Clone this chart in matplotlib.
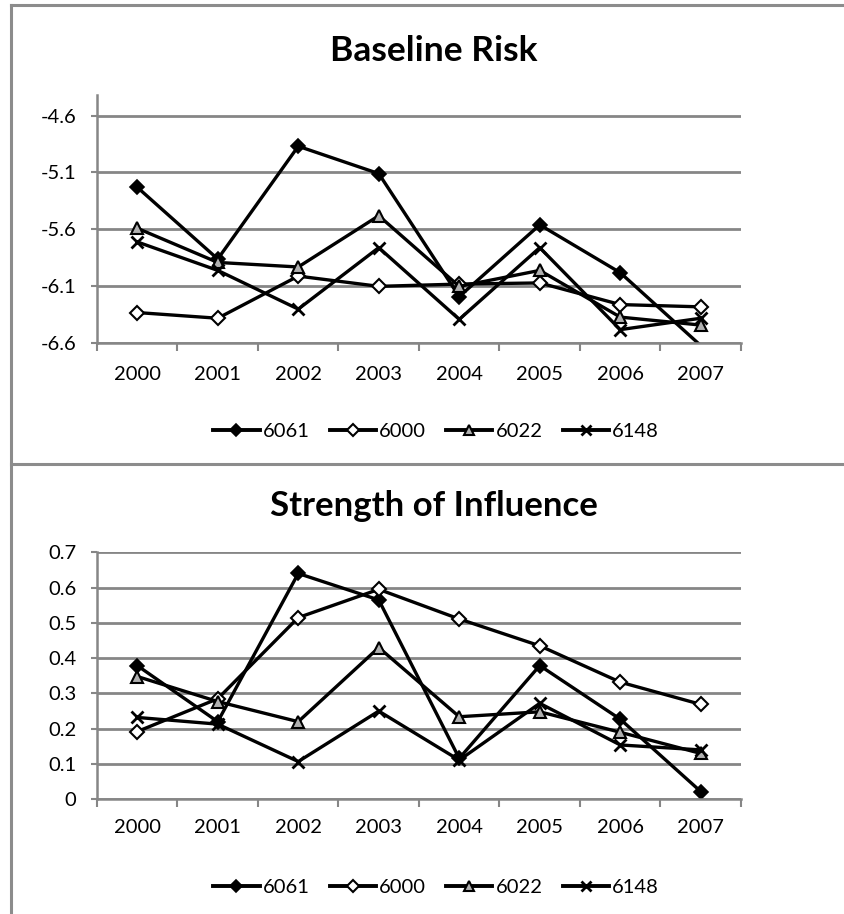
import matplotlib
matplotlib.use("Agg")
import matplotlib.pyplot as plt
from matplotlib.lines import Line2D
import numpy as np

plt.rcParams['font.family'] = ['Lato', 'DejaVu Sans']

years = ["2000", "2001", "2002", "2003", "2004", "2005", "2006", "2007"]
series_names = ["6061", "6000", "6022", "6148"]

risk_6061 = [-5.23, -5.86, -4.87, -5.11, -6.19, -5.56, -5.98, -6.62]
risk_6000 = [-6.33, -6.38, -6.01, -6.10, -6.08, -6.07, -6.26, -6.28]
risk_6022 = [-5.59, -5.89, -5.93, -5.48, -6.10, -5.96, -6.37, -6.44]
risk_6148 = [-5.71, -5.96, -6.30, -5.76, -6.39, -5.76, -6.48, -6.38]

infl_6061 = [0.379, 0.220, 0.640, 0.565, 0.116, 0.379, 0.227, 0.022]
infl_6000 = [0.192, 0.285, 0.515, 0.595, 0.511, 0.435, 0.332, 0.269]
infl_6022 = [0.348, 0.277, 0.220, 0.430, 0.234, 0.248, 0.190, 0.130]
infl_6148 = [0.232, 0.213, 0.107, 0.250, 0.111, 0.272, 0.154, 0.140]

risk_ticks = [-6.6, -6.1, -5.6, -5.1, -4.6]
infl_ticks = [0, 0.1, 0.2, 0.3, 0.4, 0.5, 0.6, 0.7]

W, H = 845, 914
fig = plt.figure(figsize=(W / 100, H / 100), dpi=100)

GRAY = '#868686'
styles = [
    dict(marker='D', markersize=7, markerfacecolor='black', markeredgecolor='black', markeredgewidth=1.2),
    dict(marker='D', markersize=7, markerfacecolor='white', markeredgecolor='black', markeredgewidth=1.5),
    dict(marker='^', markersize=8.5, markerfacecolor='#b0b0b0', markeredgecolor='black', markeredgewidth=1.5),
    dict(marker='x', markersize=8.5, markerfacecolor='black', markeredgecolor='black', markeredgewidth=2.0),
]
legend_sizes = [6, 6, 7, 7]

LABEL_FS = 14.5


def fx(px):
    return px / W


def fy(py):
    return 1 - py / H


def make_panel(ax_rect, data, ticks, ylim, fmt, title, title_base, title_fs, xpad, legend_y):
    left, top, right, bottom = ax_rect
    ax = fig.add_axes([fx(left), fy(bottom), fx(right) - fx(left), fy(top) - fy(bottom)])
    x = np.arange(len(years))
    for name, vals, st in zip(series_names, data, styles):
        vals = np.asarray(vals)
        inside = [i for i, v in enumerate(vals) if ylim[0] - 1e-9 <= v <= ylim[1] + 1e-9]
        ax.plot(x, vals, color='black', linewidth=2.4, label=name, markevery=inside, **st)
    ax.set_xlim(-0.5, len(years) - 0.5)
    ax.set_ylim(*ylim)
    ax.set_yticks(ticks)
    ax.set_yticklabels([fmt(t) for t in ticks])
    ax.yaxis.grid(True, color=GRAY, linewidth=2.0)
    ax.set_axisbelow(True)
    ax.set_xticks(np.arange(-0.5, len(years)))
    ax.set_xticklabels([])
    ax.set_xticks(x, minor=True)
    ax.set_xticklabels(years, minor=True)
    ax.tick_params(axis='x', which='major', direction='out', length=5.5, width=1.5, color=GRAY)
    ax.tick_params(axis='x', which='minor', length=0, pad=xpad, labelsize=LABEL_FS)
    ax.tick_params(axis='y', direction='out', length=4, width=1.5, color=GRAY, pad=11, labelsize=LABEL_FS)
    for s in ['top', 'right']:
        ax.spines[s].set_visible(False)
    for s in ['left', 'bottom']:
        ax.spines[s].set_color(GRAY)
        ax.spines[s].set_linewidth(1.8)
    fig.text(fx(434), fy(title_base), title, ha='center', va='baseline',
             fontsize=title_fs, fontweight='bold')
    handles = []
    for st, ms in zip(styles, legend_sizes):
        st2 = dict(st)
        st2['markersize'] = ms
        handles.append(Line2D([], [], color='black', linewidth=2.8, **st2))
    fig.legend(handles, series_names, loc='center', bbox_to_anchor=(fx(436), fy(legend_y)),
               ncol=4, frameon=False, fontsize=LABEL_FS, handlelength=2.3, handletextpad=0.15,
               columnspacing=1.0)
    return ax


make_panel((97, 95, 741, 343.3), [risk_6061, risk_6000, risk_6022, risk_6148],
           risk_ticks, (-6.6, -4.42), lambda t: f"{t:.1f}", "Baseline Risk", 61, 25.5, 16.5, 431)
make_panel((97, 552.3, 741, 799.3), [infl_6061, infl_6000, infl_6022, infl_6148],
           infl_ticks, (0, 0.7), lambda t: "0" if t == 0 else f"{t:.1f}", "Strength of Influence",
           516, 25, 14.5, 887)

# outer frame lines
for (x0, y0, x1, y1) in [(11, 5, W, 5), (11, 5, 11, H), (11, 463.5, W, 463.5)]:
    fig.add_artist(Line2D([fx(x0), fx(x1)], [fy(y0), fy(y1)], color='#8c8c8c', linewidth=2.2,
                          transform=fig.transFigure))

fig.savefig("out.png", dpi=100)
